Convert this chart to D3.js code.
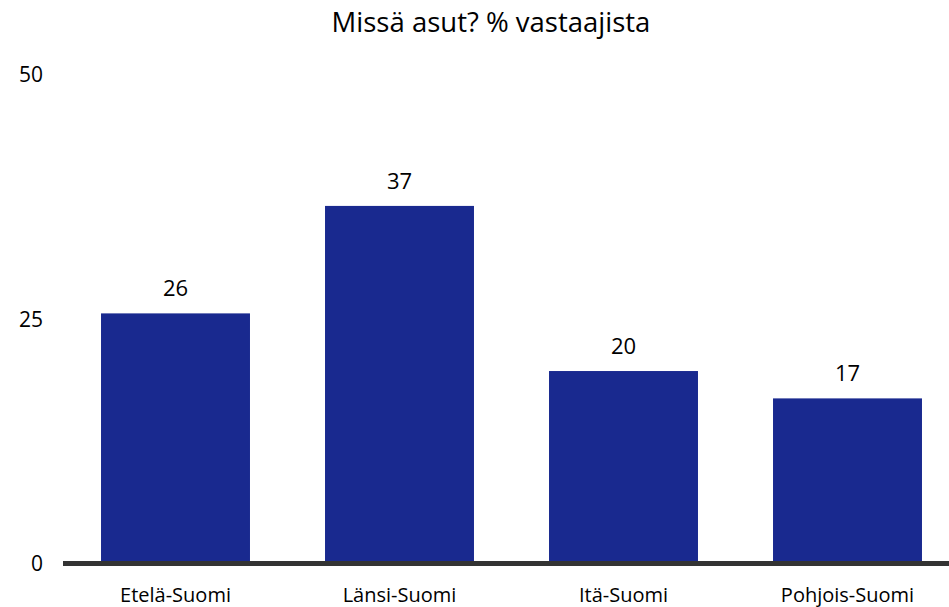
<!DOCTYPE html>
<html lang="fi">
<head>
<meta charset="UTF-8">
<script src="https://d3js.org/d3.v7.min.js"></script>
<style>
  body { margin: 0; background: #fff; }
  text { font-family: "Open Sans", sans-serif; fill: #000; }
</style>
<title>Missä asut?</title>
</head>
<body>
<svg id="chart" width="949" height="607"></svg>
<script>
// data
const regions = ["Etelä-Suomi", "Länsi-Suomi", "Itä-Suomi", "Pohjois-Suomi"];
const shares = [25.6, 36.6, 19.7, 16.9];
const shareLabels = ["26", "37", "20", "17"];
const yTicks = [0, 25, 50];
const title = "Missä asut? % vastaajista";

const svg = d3.select("#chart");

const x = d3.scaleBand()
    .domain(regions)
    .range([63.5, 959.5])
    .paddingInner(0.335)
    .paddingOuter(0.1675);

const y = d3.scaleLinear()
    .domain([0, 50])
    .range([563.5, 75]);

// title
svg.append("text")
    .attr("x", 491)
    .attr("y", 32)
    .attr("text-anchor", "middle")
    .style("font-size", "27.5px")
    .text(title);

// y tick labels (no axis line)
svg.append("g").selectAll("text")
    .data(yTicks)
    .enter().append("text")
    .attr("x", 43)
    .attr("y", d => y(d))
    .attr("dy", "0.35em")
    .attr("text-anchor", "end")
    .style("font-size", "21px")
    .text(d => d);

// bars
svg.append("g").selectAll("rect")
    .data(regions)
    .enter().append("rect")
    .attr("x", d => x(d))
    .attr("y", (d, i) => y(shares[i]))
    .attr("width", x.bandwidth())
    .attr("height", (d, i) => y(0) - y(shares[i]))
    .attr("fill", "#19298F");

// value labels
svg.append("g").selectAll("text")
    .data(regions)
    .enter().append("text")
    .attr("x", d => x(d) + x.bandwidth() / 2)
    .attr("y", (d, i) => y(shares[i]) - 17)
    .attr("text-anchor", "middle")
    .style("font-size", "22px")
    .text((d, i) => shareLabels[i]);

// baseline
svg.append("line")
    .attr("x1", 63)
    .attr("x2", 949)
    .attr("y1", y(0))
    .attr("y2", y(0))
    .attr("stroke", "#333")
    .attr("stroke-width", 5);

// category labels
svg.append("g").selectAll("text")
    .data(regions)
    .enter().append("text")
    .attr("x", d => x(d) + x.bandwidth() / 2)
    .attr("y", 602)
    .attr("text-anchor", "middle")
    .style("font-size", "20px")
    .text(d => d);
</script>
</body>
</html>
